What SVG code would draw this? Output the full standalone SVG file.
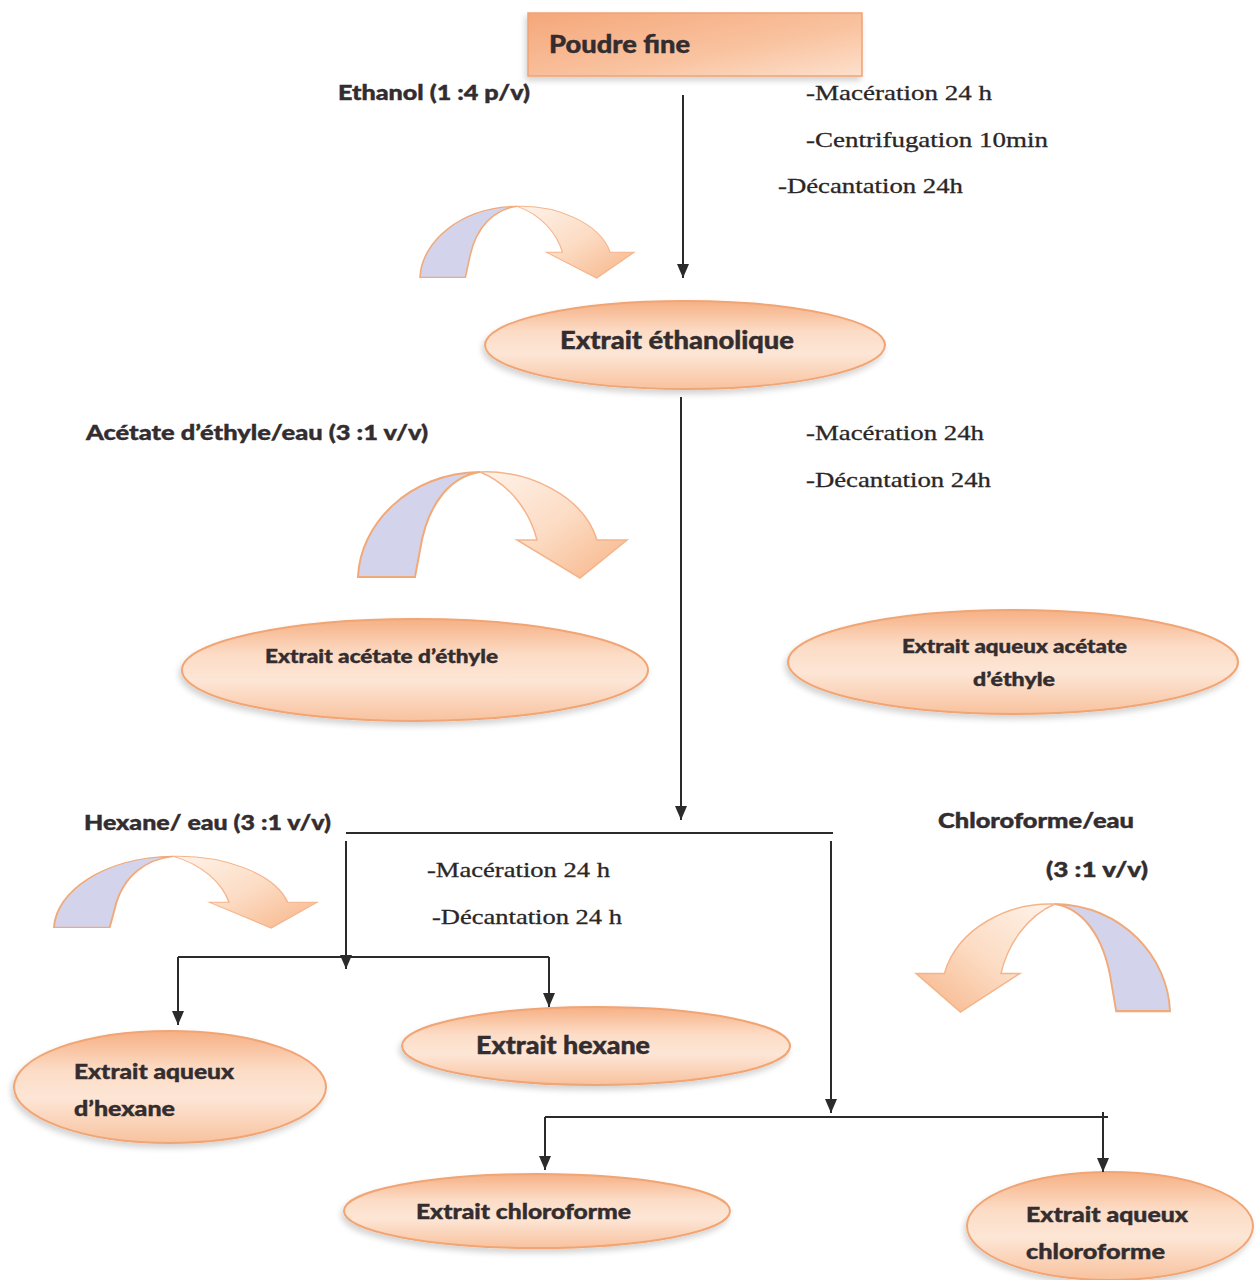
<svg xmlns="http://www.w3.org/2000/svg" width="1256" height="1280" viewBox="0 0 1256 1280">
<defs>
<linearGradient id="gRect" x1="0" y1="0" x2="1" y2="1">
<stop offset="0" stop-color="#f5a77a"/>
<stop offset="0.6" stop-color="#f9c3a0"/>
<stop offset="1" stop-color="#fde0cc"/>
</linearGradient>
<linearGradient id="gEll" x1="0" y1="0" x2="0" y2="1">
<stop offset="0" stop-color="#f6b084"/>
<stop offset="0.35" stop-color="#fcdcc6"/>
<stop offset="0.6" stop-color="#fde6d6"/>
<stop offset="1" stop-color="#f8c29e"/>
</linearGradient>
<linearGradient id="gArr" x1="0" y1="0" x2="1" y2="1">
<stop offset="0" stop-color="#fef3ea"/>
<stop offset="0.5" stop-color="#fcdcc4"/>
<stop offset="1" stop-color="#f7b487"/>
</linearGradient>
<marker id="ah" markerUnits="userSpaceOnUse" markerWidth="14" markerHeight="12" refX="14" refY="6" orient="auto" viewBox="0 0 14 12">
<path d="M0,0 L14,6 L0,12 Z" fill="#2b2b2b"/>
</marker>
<g id="curl">
<path d="M0,107 C2,55 50,3 122,2 C95,6 70,30 62,80 L57,107 Z" fill="#d3d4ec" stroke="#f2a978" stroke-width="2"/>
<path d="M122,2 C170,0 225,25 239,70 L269,70 L222,108 L159,70 L179,70 C172,42 152,14 122,2 Z" fill="url(#gArr)" stroke="#f4b48a" stroke-width="1.5"/>
</g>
<filter id="sh" x="-10%" y="-10%" width="120%" height="130%">
<feGaussianBlur in="SourceAlpha" stdDeviation="3"/>
<feOffset dx="-2" dy="4"/>
<feComponentTransfer><feFuncA type="linear" slope="0.18"/></feComponentTransfer>
<feMerge><feMergeNode/><feMergeNode in="SourceGraphic"/></feMerge>
</filter>
</defs>
<style>
.b{font-family:Lato,"Liberation Sans",sans-serif;font-weight:900;fill:#332d2f;stroke:#332d2f;stroke-width:0.4}
.s{font-family:"Liberation Serif","Times New Roman",serif;fill:#2a2626;font-size:22px;stroke:#2a2626;stroke-width:0.3}
.e{fill:url(#gEll);stroke:#f1a574;stroke-width:2;filter:url(#sh)}
.c{stroke:#2b2b2b;stroke-width:2;fill:none}
</style>
<rect width="1256" height="1280" fill="#ffffff"/>

<g id="n-poudre">
<rect x="528" y="13" width="334" height="63" fill="url(#gRect)" stroke="#f0a373" stroke-width="1.5" filter="url(#sh)"/>
<text class="b" x="549" y="53" font-size="24" textLength="141" lengthAdjust="spacingAndGlyphs">Poudre fine</text>
</g>

<g id="n-ethanolique">
<ellipse class="e" cx="685" cy="345" rx="200" ry="44"/>
<text class="b" x="560" y="349" font-size="24" textLength="234" lengthAdjust="spacingAndGlyphs">Extrait éthanolique</text>
</g>

<g id="n-acetate">
<ellipse class="e" cx="415" cy="670" rx="233" ry="51"/>
<text class="b" x="265" y="663" font-size="19" textLength="233" lengthAdjust="spacingAndGlyphs">Extrait acétate d’éthyle</text>
</g>

<g id="n-aq-acetate">
<ellipse class="e" cx="1013" cy="662" rx="225" ry="52"/>
<text class="b" x="902" y="653" font-size="19" textLength="225" lengthAdjust="spacingAndGlyphs">Extrait aqueux acétate</text>
<text class="b" x="973" y="686" font-size="19" textLength="82" lengthAdjust="spacingAndGlyphs">d’éthyle</text>
</g>

<g id="n-aq-hexane">
<ellipse class="e" cx="170" cy="1087" rx="156" ry="56"/>
<text class="b" x="74" y="1079" font-size="21" textLength="160" lengthAdjust="spacingAndGlyphs">Extrait aqueux</text>
<text class="b" x="74" y="1116" font-size="21" textLength="101" lengthAdjust="spacingAndGlyphs">d’hexane</text>
</g>

<g id="n-hexane">
<ellipse class="e" cx="596" cy="1046" rx="194" ry="39"/>
<text class="b" x="476" y="1054" font-size="24" textLength="174" lengthAdjust="spacingAndGlyphs">Extrait hexane</text>
</g>

<g id="n-chloro">
<ellipse class="e" cx="537" cy="1211" rx="193" ry="37"/>
<text class="b" x="416" y="1219" font-size="21" textLength="215" lengthAdjust="spacingAndGlyphs">Extrait chloroforme</text>
</g>

<g id="n-aq-chloro">
<ellipse class="e" cx="1110" cy="1226" rx="143" ry="54"/>
<text class="b" x="1026" y="1222" font-size="21" textLength="162" lengthAdjust="spacingAndGlyphs">Extrait aqueux</text>
<text class="b" x="1026" y="1259" font-size="21" textLength="139" lengthAdjust="spacingAndGlyphs">chloroforme</text>
</g>

<g id="curls">
<use href="#curl" transform="translate(420,205) scale(0.796,0.676)"/>
<use href="#curl" transform="translate(358,470)"/>
<use href="#curl" transform="translate(54,855) scale(0.978,0.676)"/>
<use href="#curl" transform="translate(1170,902) scale(-0.944,1.02)"/>
</g>

<g id="connectors">
<line class="c" x1="683" y1="95" x2="683" y2="278" marker-end="url(#ah)"/>
<line class="c" x1="681" y1="397" x2="681" y2="820" marker-end="url(#ah)"/>
<line class="c" x1="346" y1="833" x2="833" y2="833"/>
<line class="c" x1="346" y1="841" x2="346" y2="969" marker-end="url(#ah)"/>
<line class="c" x1="831" y1="841" x2="831" y2="1113" marker-end="url(#ah)"/>
<line class="c" x1="178" y1="957" x2="549" y2="957"/>
<line class="c" x1="178" y1="957" x2="178" y2="1025" marker-end="url(#ah)"/>
<line class="c" x1="549" y1="957" x2="549" y2="1007" marker-end="url(#ah)"/>
<line class="c" x1="545" y1="1117" x2="1108" y2="1117"/>
<line class="c" x1="545" y1="1117" x2="545" y2="1170" marker-end="url(#ah)"/>
<line class="c" x1="1103" y1="1112" x2="1103" y2="1172" marker-end="url(#ah)"/>
</g>

<g id="labels">
<text class="b" x="338" y="100" font-size="20" textLength="192" lengthAdjust="spacingAndGlyphs">Ethanol (1 :4 p/v)</text>
<text class="s" x="806" y="100" textLength="186" lengthAdjust="spacingAndGlyphs">-Macération 24 h</text>
<text class="s" x="806" y="147" textLength="242" lengthAdjust="spacingAndGlyphs">-Centrifugation 10min</text>
<text class="s" x="778" y="193" textLength="185" lengthAdjust="spacingAndGlyphs">-Décantation 24h</text>
<text class="b" x="86" y="440" font-size="20" textLength="342" lengthAdjust="spacingAndGlyphs">Acétate d’éthyle/eau (3 :1 v/v)</text>
<text class="s" x="806" y="440" textLength="178" lengthAdjust="spacingAndGlyphs">-Macération 24h</text>
<text class="s" x="806" y="487" textLength="185" lengthAdjust="spacingAndGlyphs">-Décantation 24h</text>
<text class="b" x="84" y="830" font-size="20" textLength="247" lengthAdjust="spacingAndGlyphs">Hexane/ eau (3 :1 v/v)</text>
<text class="s" x="427" y="877" textLength="183" lengthAdjust="spacingAndGlyphs">-Macération 24 h</text>
<text class="s" x="432" y="924" textLength="190" lengthAdjust="spacingAndGlyphs">-Décantation 24 h</text>
<text class="b" x="938" y="828" font-size="20" textLength="196" lengthAdjust="spacingAndGlyphs">Chloroforme/eau</text>
<text class="b" x="1046" y="877" font-size="20" textLength="102" lengthAdjust="spacingAndGlyphs">(3 :1 v/v)</text>
</g>
</svg>
